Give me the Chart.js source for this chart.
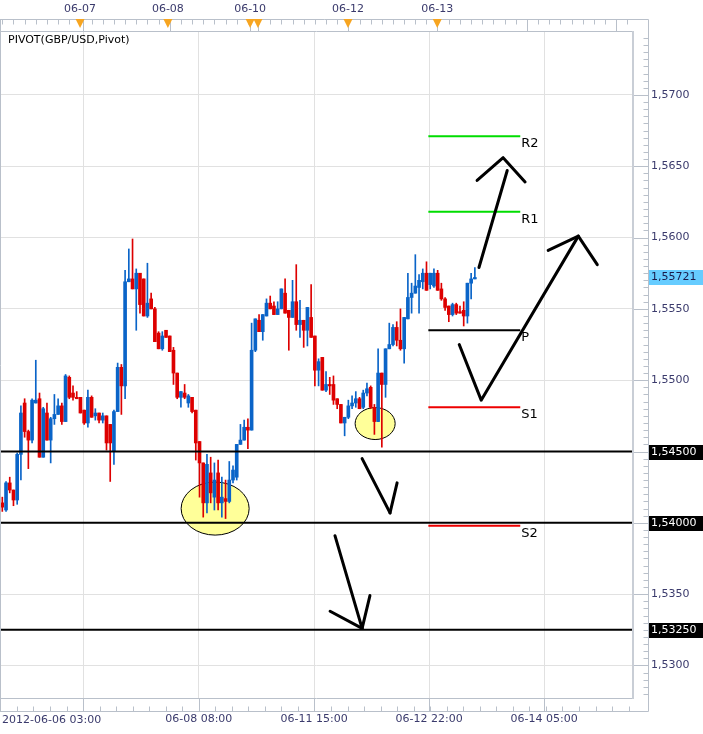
<!DOCTYPE html>
<html><head><meta charset="utf-8">
<script src="https://cdn.jsdelivr.net/npm/chart.js@4.4.1/dist/chart.umd.min.js"></script>
<style>html,body{margin:0;padding:0;background:#fff;overflow:hidden}</style>
</head><body>
<canvas id="c" width="703" height="734"></canvas>
<script>
// ---- Candle data (GBP/USD hourly) ----
const openP  = [1.5414,1.5409,1.5428,1.5423,1.5416,1.5448,1.5484,1.5464,1.5458,1.5484,1.5487,1.5446,1.5477,1.5458,1.5473,1.5476,1.5482,1.5471,1.5502,1.5491,1.5488,1.5488,1.5479,1.5470,1.5488,1.5475,1.5477,1.5472,1.5475,1.5469,1.5450,1.5478,1.5509,1.5496,1.5569,1.5571,1.5564,1.5575,1.5571,1.5545,1.5557,1.5550,1.5533,1.5522,1.5535,1.5531,1.5521,1.5505,1.5488,1.5491,1.5484,1.5488,1.5479,1.5457,1.5442,1.5414,1.5435,1.5418,1.5435,1.5414,1.5417,1.5415,1.5430,1.5432,1.5455,1.5458,1.5467,1.5465,1.5521,1.5542,1.5534,1.5545,1.5554,1.5552,1.5546,1.5550,1.5561,1.5549,1.5544,1.5555,1.5539,1.5542,1.5535,1.5544,1.5531,1.5507,1.5516,1.5493,1.5497,1.5497,1.5487,1.5483,1.5470,1.5474,1.5482,1.5484,1.5487,1.5481,1.5491,1.5495,1.5481,1.5471,1.5505,1.5497,1.5522,1.5525,1.5537,1.5528,1.5522,1.5543,1.5558,1.5561,1.5565,1.5569,1.5575,1.5567,1.5566,1.5575,1.5564,1.5557,1.5552,1.5546,1.5553,1.5548,1.5549,1.5545,1.5568,1.5571];
const highP  = [1.5418,1.5429,1.5432,1.5423,1.5449,1.5482,1.5487,1.5465,1.5487,1.5514,1.5491,1.5481,1.5484,1.5474,1.5490,1.5487,1.5484,1.5504,1.5503,1.5496,1.5492,1.5488,1.5479,1.5493,1.5489,1.5480,1.5477,1.5477,1.5475,1.5469,1.5479,1.5512,1.5511,1.5577,1.5592,1.5599,1.5578,1.5575,1.5571,1.5582,1.5561,1.5551,1.5534,1.5534,1.5535,1.5531,1.5523,1.5505,1.5492,1.5497,1.5490,1.5488,1.5479,1.5457,1.5442,1.5448,1.5446,1.5442,1.5444,1.5432,1.5430,1.5443,1.5440,1.5455,1.5469,1.5472,1.5473,1.5540,1.5543,1.5546,1.5546,1.5557,1.5559,1.5555,1.5555,1.5564,1.5571,1.5549,1.5570,1.5581,1.5556,1.5542,1.5551,1.5567,1.5531,1.5515,1.5516,1.5506,1.5502,1.5503,1.5487,1.5483,1.5474,1.5486,1.5489,1.5492,1.5488,1.5493,1.5498,1.5496,1.5483,1.5522,1.5505,1.5522,1.5540,1.5539,1.5541,1.5550,1.5544,1.5575,1.5568,1.5588,1.5574,1.5578,1.5583,1.5575,1.5578,1.5577,1.5568,1.5558,1.5552,1.5554,1.5554,1.5552,1.5555,1.5568,1.5575,1.5579];
const lowP   = [1.5408,1.5408,1.5421,1.5412,1.5413,1.5430,1.5460,1.5438,1.5456,1.5484,1.5446,1.5446,1.5458,1.5442,1.5469,1.5476,1.5469,1.5471,1.5487,1.5486,1.5487,1.5477,1.5469,1.5467,1.5474,1.5472,1.5470,1.5470,1.5451,1.5429,1.5441,1.5478,1.5476,1.5487,1.5569,1.5564,1.5535,1.5547,1.5545,1.5544,1.5550,1.5527,1.5522,1.5521,1.5530,1.5520,1.5497,1.5487,1.5481,1.5487,1.5481,1.5477,1.5444,1.5418,1.5404,1.5407,1.5414,1.5409,1.5409,1.5404,1.5403,1.5414,1.5428,1.5430,1.5455,1.5458,1.5452,1.5465,1.5520,1.5534,1.5528,1.5545,1.5550,1.5546,1.5546,1.5550,1.5547,1.5521,1.5544,1.5535,1.5530,1.5523,1.5524,1.5530,1.5496,1.5496,1.5493,1.5492,1.5490,1.5483,1.5480,1.5470,1.5461,1.5473,1.5480,1.5481,1.5480,1.5480,1.5489,1.5480,1.5462,1.5471,1.5453,1.5488,1.5522,1.5524,1.5524,1.5521,1.5512,1.5543,1.5547,1.5561,1.5547,1.5564,1.5563,1.5564,1.5565,1.5563,1.5556,1.5549,1.5541,1.5545,1.5546,1.5547,1.5538,1.5540,1.5557,1.5571];
const closeP = [1.5411,1.5428,1.5423,1.5416,1.5448,1.5477,1.5464,1.5458,1.5486,1.5486,1.5446,1.5480,1.5458,1.5473,1.5476,1.5482,1.5471,1.5503,1.5488,1.5488,1.5487,1.5477,1.5470,1.5488,1.5474,1.5477,1.5472,1.5475,1.5456,1.5456,1.5478,1.5509,1.5496,1.5569,1.5571,1.5564,1.5575,1.5553,1.5545,1.5554,1.5550,1.5527,1.5522,1.5531,1.5530,1.5520,1.5505,1.5488,1.5492,1.5488,1.5489,1.5478,1.5456,1.5442,1.5414,1.5441,1.5421,1.5430,1.5414,1.5418,1.5415,1.5430,1.5437,1.5455,1.5458,1.5467,1.5465,1.5521,1.5543,1.5534,1.5546,1.5554,1.5550,1.5546,1.5550,1.5564,1.5547,1.5544,1.5555,1.5539,1.5542,1.5535,1.5551,1.5530,1.5507,1.5513,1.5493,1.5497,1.5496,1.5486,1.5483,1.5470,1.5474,1.5482,1.5484,1.5487,1.5480,1.5491,1.5494,1.5481,1.5471,1.5505,1.5497,1.5522,1.5525,1.5537,1.5528,1.5522,1.5544,1.5558,1.5561,1.5566,1.5570,1.5575,1.5563,1.5575,1.5575,1.5563,1.5557,1.5551,1.5546,1.5553,1.5547,1.5547,1.5545,1.5568,1.5571,1.5572];
const candleIdx = openP.map((_, i) => i);

// ---- Axes ----
const xRange = [-0.62, 169.5];
const yRange = [1.52765, 1.57448];
const bottomTickIdx = [21.7, 52.8, 83.8, 114.7, 145.6];
const bottomTickLabels = ['2012-06-06 03:00', '06-08 08:00', '06-11 15:00', '06-12 22:00', '06-14 05:00'];
const topLabelIdx = [20.9, 44.5, 66.6, 92.9, 116.9];
const topLabels = ['06-07', '06-08', '06-10', '06-12', '06-13'];
const topMajorIdx = [21.7, 45.1, 66.6, 68.7, 92.9, 116.9, 141.1, 165.0];
const markerIdx = [20.9, 44.5, 66.6, 68.7, 92.9, 116.9];

// ---- Levels ----
const supportLevels = [1.5450, 1.5400, 1.5325];
const pivotNames  = ['R2', 'R1', 'P', 'S1', 'S2'];
const pivotValues = [1.5671, 1.5618, 1.5535, 1.5481, 1.5398];
const pivotSpan = [114.5, 139.2];
const lastPrice = 1.55721;
const chartTitle = 'PIVOT(GBP/USD,Pivot)';

// ---- Hand-drawn annotations (index, price) ----
const arrowStrokes = [
  [[128.1, 1.5579], [135.7, 1.5647]],
  [[127.6, 1.5640], [134.6, 1.5656], [140.5, 1.5639]],
  [[122.8, 1.5525], [128.7, 1.5486], [154.8, 1.5601]],
  [[146.7, 1.5591], [154.8, 1.5601], [159.9, 1.5581]],
  [[96.7, 1.5445], [104.2, 1.5407]],
  [[106.1, 1.5428], [104.2, 1.5407]],
  [[89.4, 1.5391], [96.7, 1.5326]],
  [[98.8, 1.5349], [96.7, 1.5326]],
  [[88.1, 1.5338], [96.7, 1.5326]]
];
const ellipseCenters = [[57.2, 1.5410], [100.2, 1.54696]];
const ellipseRadii = [[9.14, 0.00186], [5.38, 0.00112]];

// ---- Styles ----
const UP = '#0a64c8', DOWN = '#dd0000';
const pivotColors = ['#00dd00', '#00dd00', '#000000', '#ee0000', '#ee0000'];
const FONT = '"DejaVu Sans", Verdana, sans-serif';
const AXIS_TXT = '#3a3a6c';
const FRAME = '#b9c0ca';
Chart.defaults.font.family = FONT;
Chart.defaults.font.size = 11;

const candleColors = candleIdx.map(i => closeP[i] >= openP[i] ? UP : DOWN);

const datasets = [
  { type: 'bar', data: candleIdx.map(i => ({ x: i, y: [lowP[i], highP[i]] })),
    backgroundColor: candleColors, grouped: false, barPercentage: 1, categoryPercentage: 1,
    maxBarThickness: 1, order: 20 },
  { type: 'bar', data: candleIdx.map(i => ({ x: i, y: [openP[i], closeP[i]] })),
    backgroundColor: candleColors, grouped: false, barPercentage: 1, categoryPercentage: 1,
    maxBarThickness: 3, minBarLength: 1, order: 10 }
];
supportLevels.forEach(v => datasets.push({
  type: 'line', data: [{ x: xRange[0], y: v }, { x: xRange[1], y: v }],
  borderColor: '#000', borderWidth: 2, pointRadius: 0, order: 5
}));
pivotValues.forEach((v, k) => datasets.push({
  type: 'line', data: [{ x: pivotSpan[0], y: v }, { x: pivotSpan[1], y: v }],
  borderColor: pivotColors[k], borderWidth: 2, pointRadius: 0, order: 4
}));
arrowStrokes.forEach(s => datasets.push({
  type: 'line', data: s.map(p => ({ x: p[0], y: p[1] })),
  borderColor: '#000', borderWidth: 3, pointRadius: 0, tension: 0,
  borderCapStyle: 'round', borderJoinStyle: 'round', order: 1
}));

const fmt = (v, d) => v.toFixed(d).replace('.', ',');

const decor = {
  id: 'decor',
  beforeDatasetsDraw(chart) {
    const { ctx } = chart;
    const xs = chart.scales.x, ys = chart.scales.y;
    ctx.save();
    ellipseCenters.forEach((c, k) => {
      const cx = xs.getPixelForValue(c[0]), cy = ys.getPixelForValue(c[1]);
      const rx = xs.getPixelForValue(c[0] + ellipseRadii[k][0]) - cx;
      const ry = cy - ys.getPixelForValue(c[1] + ellipseRadii[k][1]);
      ctx.beginPath();
      ctx.ellipse(cx, cy, rx, ry, 0, 0, Math.PI * 2);
      ctx.fillStyle = '#ffff99';
      ctx.fill();
      ctx.lineWidth = 1;
      ctx.strokeStyle = '#000';
      ctx.stroke();
    });
    ctx.restore();
  },
  afterDraw(chart) {
    const { ctx, chartArea: a } = chart;
    const xs = chart.scales.x, ys = chart.scales.y;
    const topY = 19.5, botY = 711.5, axX = 648.5;
    ctx.save();
    // frame
    ctx.strokeStyle = FRAME;
    ctx.lineWidth = 1;
    ctx.beginPath();
    ctx.moveTo(0, topY); ctx.lineTo(axX, topY);
    ctx.moveTo(0, botY); ctx.lineTo(axX, botY);
    ctx.moveTo(axX, topY); ctx.lineTo(axX, botY);
    ctx.moveTo(0.5, topY); ctx.lineTo(0.5, botY);
    ctx.moveTo(0, a.top + 0.5); ctx.lineTo(a.right, a.top + 0.5);
    ctx.moveTo(0, a.bottom - 0.5); ctx.lineTo(a.right, a.bottom - 0.5);
    ctx.stroke();
    ctx.lineWidth = 2;
    ctx.strokeStyle = '#c9ced6';
    ctx.beginPath();
    ctx.moveTo(a.right, a.top); ctx.lineTo(a.right, a.bottom);
    ctx.stroke();
    // rulers
    ctx.lineWidth = 1;
    ctx.strokeStyle = FRAME;
    ctx.beginPath();
    for (let i = 0; i <= xRange[1]; i += 3) {
      const px = Math.round(xs.getPixelForValue(i)) + 0.5;
      if (px > a.right) break;
      ctx.moveTo(px, topY); ctx.lineTo(px, topY + 5);
    }
    topMajorIdx.forEach(i => {
      const px = Math.round(xs.getPixelForValue(i)) + 0.5;
      ctx.moveTo(px, topY); ctx.lineTo(px, a.top);
    });
    const bstep = (bottomTickIdx[1] - bottomTickIdx[0]) / 7;
    for (let v = bottomTickIdx[0] - 4 * bstep; v <= xRange[1]; v += bstep) {
      const px = Math.round(xs.getPixelForValue(v)) + 0.5;
      if (px < 0 || px > axX) continue;
      ctx.moveTo(px, botY); ctx.lineTo(px, botY - 5);
    }
    bottomTickIdx.forEach(i => {
      const px = Math.round(xs.getPixelForValue(i)) + 0.5;
      ctx.moveTo(px, botY); ctx.lineTo(px, a.bottom);
    });
    const k0 = Math.ceil(yRange[0] / 0.0005), k1 = Math.floor(yRange[1] / 0.0005);
    for (let k = k0; k <= k1; k++) {
      const py = Math.round(ys.getPixelForValue(k * 0.0005)) + 0.5;
      ctx.moveTo(axX, py); ctx.lineTo(k % 10 === 0 ? a.right + 1 : axX - 5, py);
    }
    ctx.stroke();
    // orange markers
    ctx.fillStyle = '#f7a520';
    markerIdx.forEach(i => {
      const px = xs.getPixelForValue(i);
      ctx.beginPath();
      ctx.moveTo(px - 4.5, 19); ctx.lineTo(px + 4.5, 19); ctx.lineTo(px, 28);
      ctx.closePath(); ctx.fill();
    });
    // title
    ctx.font = '11px ' + FONT;
    ctx.fillStyle = '#000';
    ctx.textBaseline = 'middle';
    ctx.textAlign = 'left';
    ctx.fillText(chartTitle, 8, 40);
    // first bottom label
    ctx.fillStyle = AXIS_TXT;
    ctx.fillText(bottomTickLabels[0], 2, 720);
    // boxed price labels
    const box = (v, txt, bg, fg) => {
      const py = ys.getPixelForValue(v);
      ctx.fillStyle = bg;
      ctx.fillRect(649, Math.round(py) - 7, 54, 15);
      ctx.fillStyle = fg;
      ctx.fillText(txt, 651, Math.round(py) + 0.5);
    };
    supportLevels.forEach(v => box(v, fmt(v, 5), '#000', '#fff'));
    box(lastPrice, fmt(lastPrice, 5), '#66ccff', '#1a1a4a');
    // pivot names
    ctx.font = '13px ' + FONT;
    ctx.fillStyle = '#000';
    ctx.textBaseline = 'top';
    pivotValues.forEach((v, k) => {
      ctx.fillText(pivotNames[k], xs.getPixelForValue(pivotSpan[1]) + 1, ys.getPixelForValue(v) + 1);
    });
    ctx.restore();
  }
};

new Chart(document.getElementById('c'), {
  type: 'bar',
  data: { datasets },
  options: {
    responsive: false,
    devicePixelRatio: 1,
    animation: false,
    events: [],
    layout: { padding: 0 },
    plugins: { legend: { display: false }, tooltip: { enabled: false } },
    scales: {
      x: {
        type: 'linear', position: 'bottom', min: xRange[0], max: xRange[1], offset: false,
        afterBuildTicks: s => { s.ticks = bottomTickIdx.map(v => ({ value: v })); },
        afterFit: s => { s.height = 35; },
        ticks: { autoSkip: false, maxRotation: 0, padding: 14, color: AXIS_TXT,
          callback: (v, i) => i === 0 ? '' : bottomTickLabels[i] },
        grid: { color: '#e1e1e1', drawTicks: false, offset: false },
        border: { display: false }
      },
      xTop: {
        type: 'linear', position: 'top', min: xRange[0], max: xRange[1], offset: false,
        afterBuildTicks: s => { s.ticks = topLabelIdx.map(v => ({ value: v })); },
        afterFit: s => { s.height = 31; },
        ticks: { autoSkip: false, maxRotation: 0, padding: 15, color: AXIS_TXT,
          callback: (v, i) => topLabels[i] },
        grid: { display: false, drawTicks: false },
        border: { display: false }
      },
      y: {
        type: 'linear', position: 'right', min: yRange[0], max: yRange[1], stacked: false,
        afterFit: s => { s.width = 70; },
        ticks: { stepSize: 0.005, includeBounds: false, autoSkip: false, padding: 18, color: AXIS_TXT,
          callback: v => {
            const r = Math.round(v * 10000) / 10000;
            if (Math.abs(r - 1.54) < 1e-6 || Math.abs(r - 1.545) < 1e-6) return '';
            return fmt(r, 4);
          } },
        grid: { color: '#e1e1e1', drawTicks: false },
        border: { display: false }
      }
    }
  },
  plugins: [decor]
});
</script>
</body></html>
